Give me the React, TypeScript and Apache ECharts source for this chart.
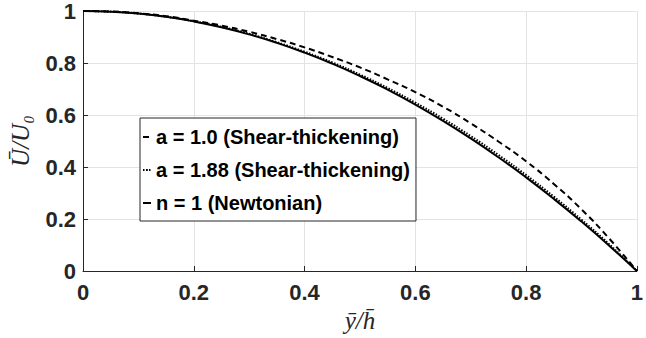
import React, { useEffect, useRef } from "react";
import * as echarts from "echarts";

const yPos = [0, 0.05, 0.1, 0.15, 0.2, 0.25, 0.3, 0.35, 0.4, 0.45, 0.5, 0.55, 0.6, 0.65, 0.7, 0.75, 0.8, 0.85, 0.9, 0.95, 1];
const uA10 = [1, 0.998, 0.991, 0.98, 0.963, 0.944, 0.92, 0.892, 0.86, 0.823, 0.783, 0.737, 0.688, 0.632, 0.568, 0.498, 0.422, 0.335, 0.237, 0.125, 0];
const uA188 = [1, 0.9976, 0.9902, 0.978, 0.961, 0.939, 0.9125, 0.88, 0.8435, 0.802, 0.7555, 0.704, 0.6475, 0.586, 0.519, 0.4465, 0.369, 0.286, 0.1975, 0.103, 0];
const uNewton = [1, 0.9975, 0.99, 0.9775, 0.96, 0.9375, 0.91, 0.8775, 0.84, 0.7975, 0.75, 0.6975, 0.64, 0.5775, 0.51, 0.4375, 0.36, 0.2775, 0.19, 0.0975, 0];
const seriesNames = ["a = 1.0 (Shear-thickening)", "a = 1.88 (Shear-thickening)", "n = 1 (Newtonian)"];

const pair = (ys: number[]) => yPos.map((x, i) => [x, ys[i]]);

export default function App() {
  const ref = useRef<HTMLDivElement>(null);
  useEffect(() => {
    if (!ref.current) return;
    const chart = echarts.init(ref.current, undefined, { renderer: "svg" });
    const axisColor = "#262626";
    const font = "'Liberation Sans', Arial, sans-serif";
    const commonAxis = {
      type: "value" as const,
      min: 0,
      max: 1,
      interval: 0.2,
      axisLine: { show: true, lineStyle: { color: axisColor, width: 1 } },
      axisTick: { show: true, inside: true, length: 5, lineStyle: { color: axisColor } },
      splitLine: { show: true, lineStyle: { color: "#e3e3e3", width: 1 } },
      nameTextStyle: { fontFamily: "'Liberation Serif', serif", fontStyle: "italic" as const, fontSize: 25, color: axisColor },
    };
    chart.setOption({
      animation: false,
      backgroundColor: "#ffffff",
      grid: { left: 81, right: 3, top: 10, bottom: 64, containLabel: false },
      xAxis: {
        ...commonAxis,
        name: "ȳ/h̄",
        nameLocation: "middle",
        nameGap: 37,
        axisLabel: { color: axisColor, fontSize: 22, fontWeight: "bold", fontFamily: font, margin: 10 },
      },
      yAxis: {
        ...commonAxis,
        name: "Ū/U₀",
        nameLocation: "middle",
        nameGap: 50,
        axisLabel: { color: axisColor, fontSize: 22, fontWeight: "bold", fontFamily: font, margin: 7 },
      },
      legend: {
        orient: "vertical",
        left: 140,
        top: 118,
        padding: [9, 6, 8, 2],
        itemGap: 13,
        itemWidth: 8,
        itemHeight: 2,
        backgroundColor: "#ffffff",
        borderColor: axisColor,
        borderWidth: 1,
        textStyle: { color: "#000", fontSize: 20, fontWeight: "bold", fontFamily: font, lineHeight: 20 },
        data: seriesNames,
      },
      series: [
        {
          name: seriesNames[0],
          type: "line",
          data: pair(uA10),
          smooth: true,
          showSymbol: false,
          symbol: "none",
          lineStyle: { color: "#000", width: 2, type: [6, 4] },
          itemStyle: { color: "#000" },
        },
        {
          name: seriesNames[1],
          type: "line",
          data: pair(uA188),
          smooth: true,
          showSymbol: false,
          symbol: "none",
          lineStyle: { color: "#000", width: 2, type: [1.5, 1.5] },
          itemStyle: { color: "#000" },
          z: 3,
        },
        {
          name: seriesNames[2],
          type: "line",
          data: pair(uNewton),
          smooth: true,
          showSymbol: false,
          symbol: "none",
          lineStyle: { color: "#000", width: 2 },
          itemStyle: { color: "#000" },
          z: 2,
        },
      ],
    });
    return () => chart.dispose();
  }, []);
  return <div ref={ref} style={{ width: 646, height: 338, position: "absolute", left: 0, top: 0 }} />;
}
